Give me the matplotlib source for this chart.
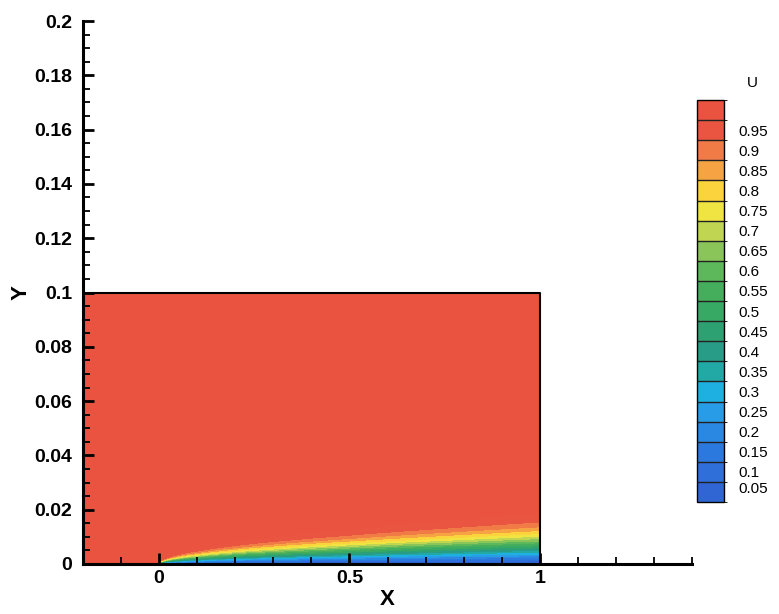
import numpy as np
import matplotlib
matplotlib.use("Agg")
import matplotlib.pyplot as plt
from matplotlib.colors import ListedColormap, BoundaryNorm
from matplotlib.cm import ScalarMappable

# ---- data -------------------------------------------------------------
# contour levels shown in the legend
levels = [0.05, 0.1, 0.15, 0.2, 0.25, 0.3, 0.35, 0.4, 0.45, 0.5,
          0.55, 0.6, 0.65, 0.7, 0.75, 0.8, 0.85, 0.9, 0.95]
level_labels = ["0.05", "0.1", "0.15", "0.2", "0.25", "0.3", "0.35", "0.4",
                "0.45", "0.5", "0.55", "0.6", "0.65", "0.7", "0.75", "0.8",
                "0.85", "0.9", "0.95"]
# colours of the legend boxes, bottom (0.05) to top (above 0.95)
level_colors = ["#2f66d4", "#2e6fda", "#2b79de", "#2a88e2", "#299ce8",
                "#1fb0e2", "#22a9a6", "#289c86", "#2ea172", "#38a865",
                "#45ae5c", "#5cb85a", "#8ac55a", "#c0d653", "#f0e443",
                "#fbd33c", "#f6a443", "#f07b47", "#ea5541", "#e9533f"]

# computational domain
domain_x = [-0.2, 1.0]
domain_y = [0.0, 0.1]
plate_start = 0.0

# boundary-layer height (U ~ 0.82 edge) at stations
bl_x = [0.0, 0.1, 0.25, 0.5, 0.75, 1.0]
bl_h = [0.0, 0.0036, 0.0058, 0.0082, 0.0102, 0.0120]

# Blasius velocity profile table (eta, u/U)
blasius_eta = [0.0, 0.5, 1.0, 1.5, 2.0, 2.5, 3.0, 3.5, 4.0, 4.5, 5.0, 5.5, 6.0, 7.0, 8.0]
blasius_u = [0.0, 0.1659, 0.3298, 0.4868, 0.6298, 0.7513, 0.8461, 0.9131,
             0.9555, 0.9795, 0.9916, 0.9969, 0.9990, 0.9999, 1.0]
eta_at_edge = 2.86

x_ticks = [0, 0.5, 1]
x_ticklabels = ["0", "0.5", "1"]
y_ticks = [0, 0.02, 0.04, 0.06, 0.08, 0.1, 0.12, 0.14, 0.16, 0.18, 0.2]
y_ticklabels = ["0", "0.02", "0.04", "0.06", "0.08", "0.1", "0.12", "0.14",
                "0.16", "0.18", "0.2"]

# ---- field ------------------------------------------------------------
xg = np.linspace(domain_x[0], domain_x[1], 900)
yg = np.linspace(domain_y[0], domain_y[1], 3000)
X, Y = np.meshgrid(xg, yg)
# interpolate the squared height so the edge grows smoothly between stations
H = np.sqrt(np.interp(X, bl_x, np.square(bl_h)))
eta = np.where(H > 0, eta_at_edge * Y / np.maximum(H, 1e-12), 100.0)
U = np.interp(eta, blasius_eta, blasius_u)
U = np.where(X <= plate_start, 1.0, U)

cmap = ListedColormap(level_colors)
field_bounds = [-0.01] + [l + 0.025 for l in levels] + [1.01]
norm = BoundaryNorm(field_bounds, ncolors=len(level_colors))
cb_bounds = [l - 0.025 for l in levels] + [0.975, 1.0]

# ---- figure -----------------------------------------------------------
plt.rcParams["font.family"] = ["Liberation Sans", "DejaVu Sans"]
fig = plt.figure(figsize=(7.79, 6.14), dpi=100)
ax = fig.add_axes([83 / 779, 1 - 564 / 614, (692 - 83) / 779, (564 - 21) / 614])

ax.pcolormesh(X, Y, U, cmap=cmap, norm=norm, shading="auto", rasterized=True)
ax.plot([domain_x[0], domain_x[1], domain_x[1]],
        [domain_y[1], domain_y[1], domain_y[0]], color="black", lw=1.5)

ax.set_xlim(-0.2, 1.4)
ax.set_ylim(0, 0.2)
for s in ["top", "right"]:
    ax.spines[s].set_visible(False)
for s in ["left", "bottom"]:
    ax.spines[s].set_linewidth(2.2)
    ax.spines[s].set_zorder(5)

ax.set_xticks(x_ticks)
ax.set_xticklabels(x_ticklabels, fontsize=14, fontweight="bold")
ax.set_xticks(np.arange(-0.1, 1.41, 0.1), minor=True)
ax.set_yticks(y_ticks)
ax.set_yticklabels(y_ticklabels, fontsize=14, fontweight="bold")
ax.set_yticks(np.arange(0, 0.2001, 0.005), minor=True)
ax.tick_params(which="major", direction="in", length=8, width=2)
ax.tick_params(which="minor", direction="in", length=5, width=1.3)
ax.tick_params(axis="y", which="major", pad=8)
ax.tick_params(axis="x", which="major", pad=4)

ax.set_xlabel("X", fontsize=16, fontweight="bold", labelpad=2)
ax.set_ylabel("Y", fontsize=16, fontweight="bold", labelpad=2)

# ---- legend -----------------------------------------------------------
cax = fig.add_axes([697 / 779, 1 - 502 / 614, 27 / 779, 402 / 614])
sm = ScalarMappable(norm=norm, cmap=cmap)
cb = fig.colorbar(sm, cax=cax, boundaries=cb_bounds, ticks=levels,
                  drawedges=True)
cb.ax.set_yticklabels(level_labels, fontsize=11)
cb.ax.tick_params(length=0, pad=10)
cb.outline.set_linewidth(1.0)
cb.dividers.set_linewidth(1.0)
cb.dividers.set_color("#222222")
fig.text(752 / 779, 1 - 83 / 614, "U", fontsize=11, ha="center", va="center")

fig.savefig("out.png", dpi=100)
